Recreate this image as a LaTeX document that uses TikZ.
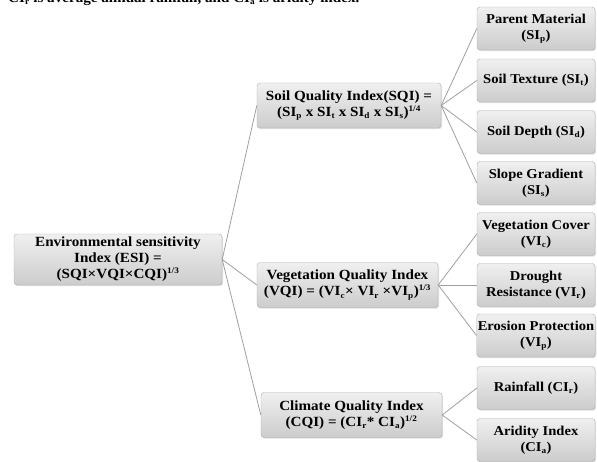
\documentclass[tikz,border=0pt]{standalone}
\usepackage{fontspec}
\setmainfont{Liberation Serif}[FakeStretch=1.08]
\usetikzlibrary{shadows}

\tikzset{
  idxbox/.style={draw=gray!65, rounded corners=3pt, top color=gray!12, bottom color=gray!40,
    font=\bfseries\fontsize{14}{16}\selectfont, align=center, inner sep=1pt,
    drop shadow={opacity=0.25, shadow xshift=1pt, shadow yshift=-1.2pt}},
  mainbox/.style={idxbox, minimum height=45pt},
  leafbox/.style={idxbox, minimum width=118pt, minimum height=43pt,
    font=\bfseries\fontsize{13.5}{16}\selectfont},
  link/.style={draw=gray!75, line width=0.8pt}
}
\newcommand{\lo}[1]{\textsubscript{\fontsize{8.5}{9}\selectfont #1}}
\newcommand{\hi}[1]{\textsuperscript{\fontsize{8.5}{9}\selectfont #1}}

\begin{document}
\begin{tikzpicture}[x=1pt,y=-1pt]
    \useasboundingbox (0,0) rectangle (597,461);

    % cut-off caption line above the chart
    \node[anchor=base west, inner sep=0pt, font=\bfseries\fontsize{14}{16}\selectfont] (note) at (8,2)
        {CI\lo{r} is average annual rainfall, and CI\lo{a} is aridity index.};

    % root
    \node[idxbox, minimum width=208pt, minimum height=51pt] (esi) at (118,259.5)
        {Environmental sensitivity\\ Index (ESI) =\\ (SQI×VQI×CQI)\hi{1/3}};

    % sub-indices
    \node[mainbox, minimum width=184pt] (sqi) at (349,105.5)
        {Soil Quality Index(SQI) =\\ (SI\lo{p} x SI\lo{t} x SI\lo{d} x SI\lo{s})\hi{1/4}};
    \node[mainbox, minimum width=181pt] (vqi) at (347.5,285)
        {Vegetation Quality Index\\ (VQI) = (VI\lo{c}× VI\lo{r} ×VI\lo{p})\hi{1/3}};
    \node[mainbox, minimum width=181pt] (cqi) at (351.5,415)
        {Climate Quality Index\\ (CQI) = (CI\lo{r}* CI\lo{a})\hi{1/2}};

    % soil factors
    \node[leafbox] (sip) at (536,28.5) {Parent Material\\ (SI\lo{p})};
    \node[leafbox] (sit) at (536,80.5) {Soil Texture (SI\lo{t})};
    \node[leafbox] (sid) at (536,132) {Soil Depth (SI\lo{d})};
    \node[leafbox] (sis) at (536,183) {Slope Gradient\\ (SI\lo{s})};

    % vegetation factors
    \node[leafbox] (vic) at (536,234) {Vegetation Cover\\ (VI\lo{c})};
    \node[leafbox] (vir) at (536,285) {Drought\\ Resistance (VI\lo{r})};
    \node[leafbox] (vip) at (536,335.5) {Erosion Protection\\ (VI\lo{p})};

    % climate factors
    \node[leafbox] (cir) at (536,388) {Rainfall (CI\lo{r})};
    \node[leafbox] (cia) at (536,440) {Aridity Index\\ (CI\lo{a})};

    % connectors
    \foreach \sub in {sqi,vqi,cqi}
        \draw[link] (esi.east) -- (\sub.west);
    \foreach \leaf in {sip,sit,sid,sis}
        \draw[link] (sqi.east) -- (\leaf.west);
    \foreach \leaf in {vic,vir,vip}
        \draw[link] (vqi.east) -- (\leaf.west);
    \foreach \leaf in {cir,cia}
        \draw[link] (cqi.east) -- (\leaf.west);
\end{tikzpicture}
\end{document}
